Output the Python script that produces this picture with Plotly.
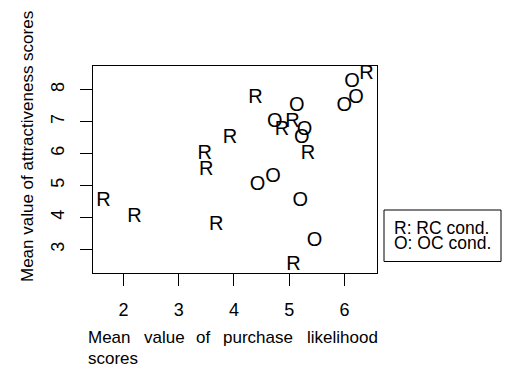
import plotly.graph_objects as go

# ---- data ----
r_x = [1.64, 2.20, 3.68, 3.47, 3.50, 3.93, 4.39, 4.87, 5.06, 5.34, 5.08, 6.40]
r_y = [4.5, 4.0, 3.75, 6.0, 5.5, 6.5, 7.75, 6.75, 7.0, 6.0, 2.5, 8.5]
o_x = [5.14, 4.74, 5.28, 5.23, 4.71, 4.43, 5.20, 5.46, 6.14, 6.21, 6.00]
o_y = [7.5, 7.0, 6.75, 6.5, 5.25, 5.0, 4.5, 3.25, 8.25, 7.75, 7.5]
x_ticks = [2, 3, 4, 5, 6]
y_ticks = [3, 4, 5, 6, 7, 8]
x_title_words = ["Mean", "value", "of", "purchase", "likelihood"]
x_title_line2 = "scores"
y_title = "Mean value of attractiveness scores"
legend_lines = ["R: RC cond.", "O: OC cond."]

W, H = 505, 370
ML, MR, MT, MB = 93, 128, 66, 97
PW, PH = W - ML - MR, H - MT - MB
FONT = "Liberation Sans, Arial, Helvetica, sans-serif"


def px(x):
    return (x - ML) / PW


def py(y):
    return (H - MB - y) / PH


def rrange(v):
    lo, hi = min(v), max(v)
    d = (hi - lo) * 0.04
    return [lo - d, hi + d]


fig = go.Figure()
fig.add_trace(go.Scatter(x=r_x, y=r_y, mode="text", text=["R"] * len(r_x),
                         textposition="middle center",
                         textfont=dict(size=20, color="black", family=FONT),
                         cliponaxis=False, showlegend=False, hoverinfo="skip"))
fig.add_trace(go.Scatter(x=o_x, y=o_y, mode="text", text=["O"] * len(o_x),
                         textposition="middle center",
                         textfont=dict(size=20, color="black", family=FONT),
                         cliponaxis=False, showlegend=False, hoverinfo="skip"))

axis_common = dict(showgrid=False, zeroline=False, showline=True, mirror=True,
                   linecolor="black", linewidth=1, ticks="outside", ticklen=12,
                   tickcolor="black", tickwidth=1,
                   tickfont=dict(size=18, color="black", family=FONT))
fig.update_xaxes(range=rrange(r_x + o_x), tickvals=x_ticks,
                 ticktext=[str(t) for t in x_ticks], ticklabelstandoff=8,
                 **axis_common)
fig.update_yaxes(range=rrange(r_y + o_y), tickvals=y_ticks,
                 ticktext=[str(t) for t in y_ticks], tickangle=-90,
                 ticklabelstandoff=9, **axis_common)

ann = []
word_left = [87, 143, 195, 222, 306]
for w, xl in zip(x_title_words, word_left):
    ann.append(dict(text=w, x=px(xl), y=py(337), xref="paper", yref="paper",
                    xanchor="left", yanchor="middle", showarrow=False,
                    borderpad=0, font=dict(size=17, color="black", family=FONT)))
ann.append(dict(text=x_title_line2, x=px(87), y=py(358), xref="paper", yref="paper",
                xanchor="left", yanchor="middle", showarrow=False, borderpad=0,
                font=dict(size=17, color="black", family=FONT)))
ann.append(dict(text=y_title, x=px(27), y=py(147), xref="paper", yref="paper",
                xanchor="center", yanchor="middle", showarrow=False, textangle=-90,
                borderpad=0, font=dict(size=17, color="black", family=FONT)))
for i, line in enumerate(legend_lines):
    ann.append(dict(text=line, x=px(393), y=py(228 + 15 * i), xref="paper", yref="paper",
                    xanchor="left", yanchor="middle", showarrow=False, borderpad=0,
                    font=dict(size=17.5, color="black", family=FONT)))

fig.add_shape(type="rect", xref="paper", yref="paper",
              x0=px(384), x1=px(501), y0=py(261.5), y1=py(210),
              line=dict(color="black", width=1), fillcolor="rgba(0,0,0,0)")

fig.update_layout(width=W, height=H, margin=dict(l=ML, r=MR, t=MT, b=MB),
                  paper_bgcolor="white", plot_bgcolor="white",
                  annotations=ann, showlegend=False, hovermode=False,
                  font=dict(family=FONT, color="black"))

fig.write_html("out.html", config={"displayModeBar": False, "staticPlot": True},
               post_script="document.body.style.margin='0';"
                           "document.documentElement.style.overflow='hidden';")
